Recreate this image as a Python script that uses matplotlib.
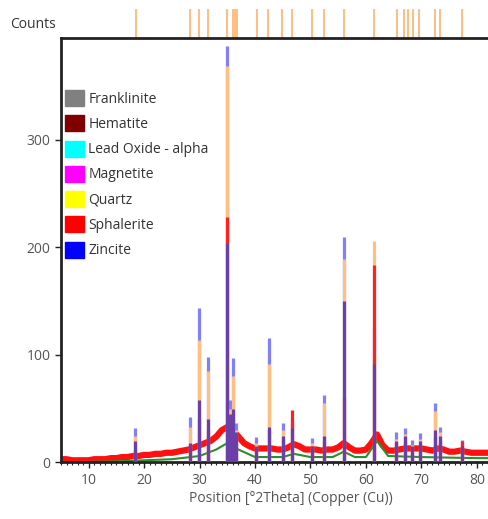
import matplotlib.pyplot as plt
from matplotlib.patches import Patch

plt.rcParams['font.family'] = ['Open Sans', 'DejaVu Sans']

# phases shown in the legend
phases = ["Franklinite", "Hematite", "Lead Oxide - alpha", "Magnetite",
          "Quartz", "Sphalerite", "Zincite"]
phase_colors = ["#808080", "#800000", "#00ffff", "#ff00ff",
                "#ffff00", "#ff0000", "#0000ff"]

# reference stick positions shown above the plot
ref_pos = [18.5, 28.2, 29.9, 31.5, 35.0, 36.0, 36.4, 36.8, 40.3, 42.3, 44.9,
           46.6, 50.3, 52.4, 56.0, 61.4, 65.6, 66.8, 67.5, 68.4, 69.6, 72.4,
           73.4, 77.3]

# peaks: position and the height of each coloured layer
peak_pos = [18.3, 28.25, 29.9, 31.55, 35.0, 35.4, 36.05, 36.5, 40.1, 42.5,
            45.0, 46.6, 50.3, 52.5, 56.0, 61.4, 65.5, 67.0, 68.3, 69.7,
            72.5, 73.4, 77.3]
peak_blue = [32, 42, 144, 98, 387, 58, 97, 37, 24, 116, 37, 41, 23, 63,
             210, 125, 28, 32, 21, 27, 55, 33, 21]
peak_orange = [25, 33, 114, 85, 369, 50, 80, 30, 18, 92, 30, 36, 18, 55,
               189, 206, 22, 26, 16, 22, 48, 28, 17]
peak_red = [12, 15, 40, 30, 228, 40, 40, 25, 14, 30, 22, 49, 15, 20,
            60, 184, 18, 20, 14, 16, 25, 20, 20]
peak_purple = [20, 18, 58, 40, 204, 45, 50, 28, 15, 33, 25, 32, 15, 25,
               150, 92, 20, 25, 15, 20, 30, 25, 15]

# observed background (red band), one value per degree from 5 to 88
bg_x = list(range(5, 89))
bg_y = [3, 3, 2, 2, 2, 2, 3, 3, 3, 4, 4, 5, 5, 6, 6, 7, 7, 8, 8, 9, 9, 10,
        11, 12, 14, 16, 18, 20, 24, 30, 33, 30, 24, 18, 15, 13, 13, 13, 13,
        12, 12, 14, 17, 15, 12, 12, 12, 11, 12, 12, 14, 18, 14, 11, 11, 12,
        18, 26, 16, 11, 11, 12, 13, 13, 13, 13, 12, 11, 13, 12, 10, 10, 11,
        10, 9, 9, 9, 9, 9, 8, 8, 8, 8, 8]

# calculated background (green)
calc_x = [5, 15, 25, 30, 33, 35, 37, 40, 45, 47, 50, 54, 56, 58, 60, 62,
          64, 70, 80, 88]
calc_y = [0, 1, 3, 6, 12, 18, 12, 5, 5, 8, 5, 5, 10, 5, 5, 20, 6, 5, 4, 4]

fig = plt.figure(figsize=(4.88, 5.19), dpi=100)
ax = fig.add_axes([0.125, 0.109, 0.943, 0.818])

ax.plot(bg_x, bg_y, color="#ff1010", lw=4.5, solid_joinstyle="round", zorder=1)
ax.plot(calc_x, calc_y, color="#2e8b2e", lw=1.5, zorder=2)

ax.vlines(peak_pos, 0, peak_blue, color="#8080ff", lw=2.3, zorder=3)
ax.vlines(peak_pos, 0, peak_orange, color="#ffbe82", lw=2.3, zorder=4)
ax.vlines(peak_pos, 0, peak_red, color="#ff2020", lw=2.3, zorder=5)
ax.vlines(peak_pos, 0, peak_purple, color="#6a3fa8", lw=2.3, zorder=6)

# reference sticks above the axes
for p in ref_pos:
    ax.plot([p, p], [1.0, 1.066], color="#ffb878", lw=1.3,
            transform=ax.get_xaxis_transform(), clip_on=False)

ax.set_xlim(5, 88)
ax.set_ylim(0, 395)
ax.set_xticks(range(10, 90, 10))
ax.set_xticks(range(5, 89), minor=True)
ax.set_yticks([0, 100, 200, 300])
ax.tick_params(axis="both", which="major", direction="out", length=4,
               width=1, colors="#222222", labelcolor="#555555", labelsize=10)
ax.tick_params(axis="x", which="minor", direction="out", length=2.5,
               width=0.8, colors="#222222")
for s in ax.spines.values():
    s.set_linewidth(2)
    s.set_color("#222222")

ax.set_xlabel("Position [°2Theta] (Copper (Cu))", color="#555555",
              fontsize=10, labelpad=2)
fig.text(0.02, 0.952, "Counts", color="#333333", fontsize=10, va="center")

handles = [Patch(facecolor=c, edgecolor=c) for c in phase_colors]
leg = ax.legend(handles, phases, loc="upper left", bbox_to_anchor=(0.008, 0.877),
                frameon=False, borderpad=0, borderaxespad=0, handlelength=1.4,
                handleheight=1.4, handletextpad=0.3, labelspacing=0.62,
                fontsize=10)
for t in leg.get_texts():
    t.set_color("#333333")

fig.savefig("out.png", dpi=100)
